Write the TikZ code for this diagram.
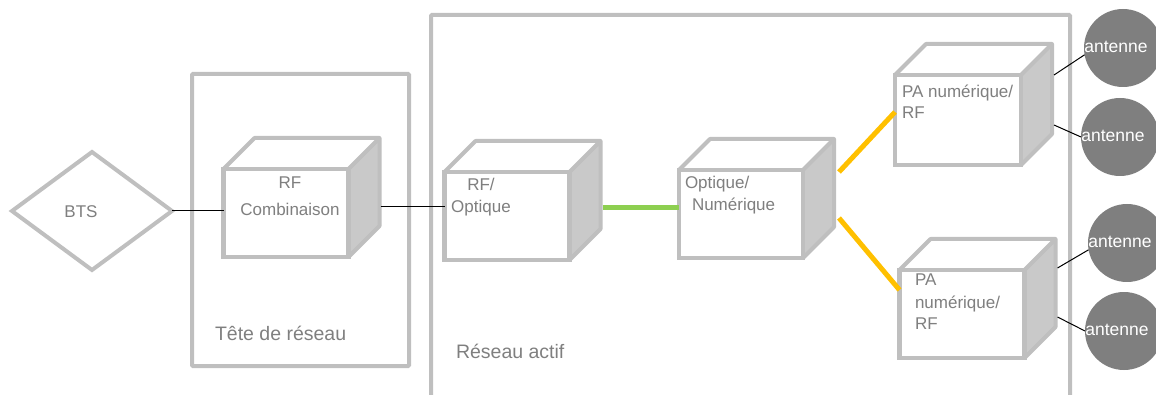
\documentclass[tikz,border=0pt]{standalone}
\usepackage{fontspec}
\setmainfont{Liberation Sans}
\usetikzlibrary{shapes.geometric,calc}
\definecolor{frame}{HTML}{BFBFBF}
\definecolor{sidegray}{HTML}{C9C9C9}
\definecolor{txtgray}{HTML}{7F7F7F}
\definecolor{antgray}{HTML}{7F7F7F}
\definecolor{fibre}{HTML}{8DCF50}
\definecolor{amber}{HTML}{FFC000}
\newcommand\drawcube[4]{%
  \node[front,minimum width=#3,minimum height=#4] (#1) at (#2) {};
  \fill[sidegray] (#1.north east) -- ++(31,-31) -- ++(0,#4) -- (#1.south east) -- cycle;
  \draw[frame,line width=4pt,line join=round] (#1.north west) -- ++(31,-31) -- ++(#3,0) -- ++(0,#4) -- (#1.south east) (#1.north east) -- ++(31,-31);
  \draw[frame,line width=4.5pt] (#1.north west) rectangle (#1.south east);
}
\begin{document}
\begin{tikzpicture}[x=1pt,y=-1pt,
  every node/.style={inner sep=0pt,outer sep=0pt},
  txt/.style={text=txtgray,font=\fontsize{17}{21}\selectfont},
  lbl/.style={text=txtgray,font=\fontsize{19.5}{23}\selectfont,anchor=base west},
  front/.style={draw=frame,line width=4.5pt,fill=white,rectangle},
  region/.style={draw=frame,line width=4pt,rounded corners=1pt},
  link/.style={black,line width=1pt},
  fibrelink/.style={fibre,line width=5pt},
  amberlink/.style={amber,line width=5pt},
  ant/.style={circle,fill=antgray,minimum size=78pt},
  anttxt/.style={text=white,font=\fontsize{17.5}{21}\selectfont}]
\useasboundingbox (0,0) rectangle (1156,395);

% regions
\node[region,rectangle,minimum width=217,minimum height=292] (tete) at (300.5,220) {};
\coordinate (ra1) at (431,410);
\coordinate (ra2) at (1070,410);
\draw[frame,line width=4pt,rounded corners=1pt] (ra1) -- (431,15) -- (1070,15) -- (ra2);
\node[lbl] (tetelbl) at (215,340) {Tête de réseau};
\node[lbl] (ralbl) at (456,358) {Réseau actif};

% BTS
\node[diamond,draw=frame,line width=4pt,minimum width=160,minimum height=118,aspect=1.35,fill=white] (bts) at (92,211) {};
\node[txt,anchor=base] (btstxt) at (81,218) {BTS};

% cubes
\drawcube{c1}{286,213}{125}{88}
\drawcube{c2}{507,216}{125}{88}
\drawcube{c3}{741,214}{124}{88}
\drawcube{c4}{958,120}{126}{90}
\drawcube{c5}{962,314}{125}{88}

\node[txt,anchor=base] (c1a) at (290,189) {RF};
\node[txt,anchor=base] (c1b) at (290,216) {Combinaison};
\node[txt,anchor=base] (c2a) at (481,191) {RF/};
\node[txt,anchor=base] (c2b) at (481,213) {Optique};
\node[txt,anchor=base west] (c3a) at (685,189) {Optique/};
\node[txt,anchor=base west] (c3b) at (692,211) {Numérique};
\node[txt,anchor=base west] (c4a) at (902,98) {PA numérique/};
\node[txt,anchor=base west] (c4b) at (902,119) {RF};
\node[txt,anchor=base west] (c5a) at (915,286) {PA};
\node[txt,anchor=base west] (c5b) at (915,308) {numérique/};
\node[txt,anchor=base west] (c5c) at (915,329) {RF};

% antennas
\node[ant] (a1) at (1123,48) {};
\node[ant] (a2) at (1120,137) {};
\node[ant] (a3) at (1127,243) {};
\node[ant] (a4) at (1124,331) {};
\node[anttxt] (a1t) at (1116,47) {antenne};
\node[anttxt] (a2t) at (1113,136) {antenne};
\node[anttxt] (a3t) at (1120,242) {antenne};
\node[anttxt] (a4t) at (1117,330) {antenne};

% connectors
\draw[link] (bts.east) -- (bts.east -| c1.west);
\coordinate (c1out) at ($(c1.east)+(32,-6)$);
\draw[link] (c1out) -- (c1out -| c2.west);
\coordinate (c2out) at ($(c2.east)+(33,-8)$);
\draw[fibrelink] (c2out) -- (c2out -| c3.west);
\coordinate (c3outa) at ($(c3.east)+(36,-42)$);
\coordinate (c3outb) at ($(c3.east)+(36,4)$);
\draw[amberlink] (c3outa) -- ($(c4.west)+(0,-8)$);
\draw[amberlink] (c3outb) -- ($(c5.west)+(0,-24)$);
\draw[link] ($(c4.north east)+(33,0)$) -- (a1.190);
\draw[link] ($(c4.east)+(33,5)$) -- (a2.west);
\draw[link] ($(c5.north east)+(33,-2)$) -- (a3.190);
\draw[link] ($(c5.east)+(33,3)$) -- (a4.west);
\end{tikzpicture}
\end{document}
